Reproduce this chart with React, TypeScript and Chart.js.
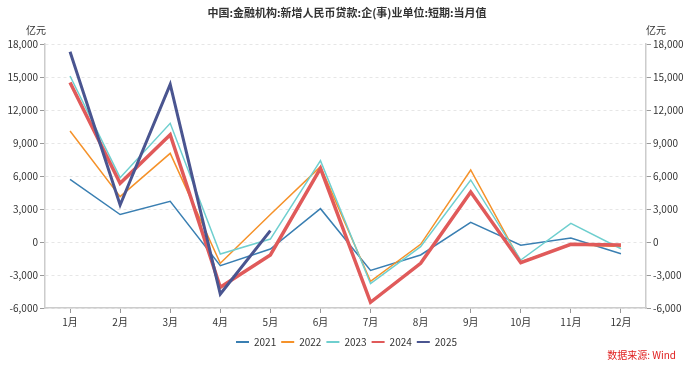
import React, { useEffect, useRef } from "react";
import { Chart, registerables } from "chart.js";

Chart.register(...registerables);

const months = ["1月", "2月", "3月", "4月", "5月", "6月", "7月", "8月", "9月", "10月", "11月", "12月"];
const seriesNames = ["2021", "2022", "2023", "2024", "2025"];
const v2021 = [5700, 2500, 3700, -2150, -640, 3030, -2580, -1180, 1790, -300, 360, -1060];
const v2022 = [10090, 4120, 8060, -1940, 2500, 6850, -3580, -210, 6545, -1800, -250, -420];
const v2023 = [15090, 5850, 10790, -1090, 270, 7390, -3790, -420, 5640, -1640, 1700, -610];
const v2024 = [14500, 5330, 9760, -4120, -1180, 6700, -5480, -1940, 4545, -1880, -210, -270];
const v2025 = [17300, 3360, 14330, -4730, 1030, null, null, null, null, null, null, null];
const seriesColors = ["#3a7fb2", "#f5922a", "#6fcfcf", "#e05a5a", "#4a5590"];
const seriesWidths = [1.5, 1.5, 1.5, 3.5, 3];
const yMin = -6000;
const yMax = 18000;
const yStep = 3000;
const titleText = "中国:金融机构:新增人民币贷款:企(事)业单位:短期:当月值";
const unitText = "亿元";
const sourceText = "数据来源: Wind";

const FONT = '"Noto Sans CJK SC", "Noto Sans", sans-serif';

export default function App() {
  const ref = useRef<HTMLCanvasElement | null>(null);
  useEffect(() => {
    document.body.style.margin = "0";
    const values = [v2021, v2022, v2023, v2024, v2025];
    const datasets = seriesNames.map((name, i) => ({
      label: name,
      data: values[i],
      borderColor: seriesColors[i],
      backgroundColor: seriesColors[i],
      borderWidth: seriesWidths[i],
      pointRadius: 0,
      pointHoverRadius: 0,
      tension: 0,
      fill: false,
      order: 5 - i,
      yAxisID: "y",
    }));
    const textPlugin = {
      id: "texts",
      afterDraw(chart: any) {
        const ctx = chart.ctx;
        ctx.save();
        ctx.fillStyle = "#333";
        ctx.font = `bold 11px ${FONT}`;
        ctx.textAlign = "center";
        ctx.textBaseline = "middle";
        ctx.fillText(titleText, 347, 13);
        ctx.font = `10px ${FONT}`;
        ctx.fillStyle = "#333";
        ctx.fillText(unitText, 36, 30);
        ctx.fillText(unitText, 656, 30);
        ctx.fillStyle = "#e02020";
        ctx.textAlign = "right";
        ctx.fillText(sourceText, 676, 355);
        ctx.restore();
      },
    };
    const defaultLabels = Chart.defaults.plugins.legend.labels.generateLabels;
    const chart = new Chart(ref.current!, {
      type: "line",
      data: { labels: months, datasets },
      plugins: [textPlugin],
      options: {
        animation: false,
        responsive: false,
        maintainAspectRatio: false,
        layout: { padding: { top: 44, left: 0, right: 0, bottom: 10 } },
        plugins: {
          title: { display: false },
          tooltip: { enabled: false },
          legend: {
            position: "bottom",
            labels: {
              boxWidth: 13,
              boxHeight: 2,
              padding: 5,
              color: "#333",
              font: { size: 10, family: FONT },
              sort: (a: any, b: any) => a.datasetIndex - b.datasetIndex,
              generateLabels: (c: any) =>
                defaultLabels(c).map((l: any) => ({ ...l, lineWidth: 0, fillStyle: seriesColors[l.datasetIndex] })),
            },
          },
        },
        scales: {
          x: {
            offset: true,
            grid: {
              drawOnChartArea: false,
              tickLength: 5,
              tickColor: "#999",
              offset: false,
            },
            border: { color: "#ccc", width: 1.5 },
            ticks: { color: "#333", font: { size: 10, family: FONT }, padding: 3, maxRotation: 0 },
            afterFit(scale: any) {
              scale.height = 24;
            },
          },
          y: {
            position: "left",
            min: yMin,
            max: yMax,
            grid: {
              color: "#e6e6e6",
              tickColor: "#999",
              tickLength: 5,
              lineWidth: 1,
            },
            border: { color: "#ccc", width: 1.5, dash: [3, 3] },
            ticks: { stepSize: yStep, color: "#333", font: { size: 10, family: FONT }, padding: 2 },
            afterFit(scale: any) {
              scale.width = 45;
            },
          },
          y2: {
            position: "right",
            min: yMin,
            max: yMax,
            grid: { drawOnChartArea: false, tickColor: "#999", tickLength: 5 },
            border: { color: "#ccc", width: 1.5 },
            ticks: { stepSize: yStep, color: "#333", font: { size: 10, family: FONT }, padding: 2 },
            afterFit(scale: any) {
              scale.width = 47;
            },
          },
        },
      } as any,
    });
    return () => chart.destroy();
  }, []);
  return (
    <div style={{ width: 693, height: 367 }}>
      <canvas ref={ref} width={693} height={367} style={{ width: 693, height: 367, display: "block" }} />
    </div>
  );
}
